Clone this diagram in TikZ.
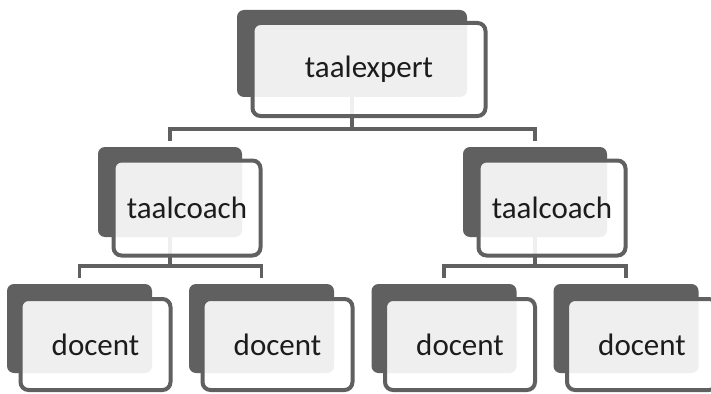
\documentclass[tikz,border=0pt]{standalone}
\usepackage{fontspec}
\setmainfont{Carlito}
\usetikzlibrary{positioning}
\definecolor{boxgray}{HTML}{606060}
\definecolor{inkblack}{HTML}{1C1C1C}

\tikzset{
  backbox/.style={rectangle, rounded corners=7pt, fill=boxgray, draw=none},
  frontbox/.style={rectangle, rounded corners=8pt, draw=boxgray, line width=4pt, fill=white, fill opacity=0.9, text opacity=1, text=inkblack, font=\fontsize{31}{36}\selectfont},
  connector/.style={draw=boxgray, line width=3.6pt}
}

\begin{document}
\begin{tikzpicture}[x=1pt, y=-1pt, node distance=182pt]
\useasboundingbox (0,0) rectangle (711,393);
% back boxes
\node (expertback) [backbox, minimum width=230pt, minimum height=87pt] at (352,53.5) {};
\node (coachLback) [backbox, minimum width=144pt, minimum height=90pt] at (170,192) {};
\node (coachRback) [backbox, minimum width=144pt, minimum height=90pt] at (535,192) {};
\node (docent1back) [backbox, minimum width=145pt, minimum height=89pt] at (79.5,328.5) {};
\node (docent2back) [backbox, minimum width=145pt, minimum height=89pt, right of=docent1back] {};
\node (docent3back) [backbox, minimum width=145pt, minimum height=89pt] at (444,328.5) {};
\node (docent4back) [backbox, minimum width=145pt, minimum height=89pt, right of=docent3back] {};

% connectors (they run behind the front boxes)
\coordinate (topbus) at (0,129);
\coordinate (leftbus) at (0,266);
\coordinate (rightbus) at (0,266);
\draw[connector] (expertback.south) -- (expertback |- topbus);
\draw[connector] ([yshift=6pt]coachLback.north) |- (expertback |- topbus) -| ([yshift=6pt]coachRback.north);
\draw[connector] (coachLback.south) -- (coachLback |- leftbus);
\draw[connector] ([yshift=6pt]docent1back.north) |- (coachLback |- leftbus) -| ([yshift=6pt]docent2back.north);
\draw[connector] (coachRback.south) -- (coachRback |- rightbus);
\draw[connector] ([yshift=6pt]docent3back.north) |- (coachRback |- rightbus) -| ([yshift=6pt]docent4back.north);

% front boxes
\node (expert) [frontbox, minimum width=233pt, minimum height=93pt] at ([shift={(17,16)}]expertback.center) {taalexpert};
\node (coachL) [frontbox, minimum width=147pt, minimum height=95pt] at ([shift={(17,16)}]coachLback.center) {taalcoach};
\node (coachR) [frontbox, minimum width=147pt, minimum height=95pt] at ([shift={(17,16)}]coachRback.center) {taalcoach};
\node (docent1) [frontbox, minimum width=150pt, minimum height=91pt] at ([shift={(16,16)}]docent1back.center) {docent};
\node (docent2) [frontbox, minimum width=150pt, minimum height=91pt] at ([shift={(16,16)}]docent2back.center) {docent};
\node (docent3) [frontbox, minimum width=150pt, minimum height=91pt] at ([shift={(16,16)}]docent3back.center) {docent};
\node (docent4) [frontbox, minimum width=150pt, minimum height=91pt] at ([shift={(16,16)}]docent4back.center) {docent};
\end{tikzpicture}
\end{document}
